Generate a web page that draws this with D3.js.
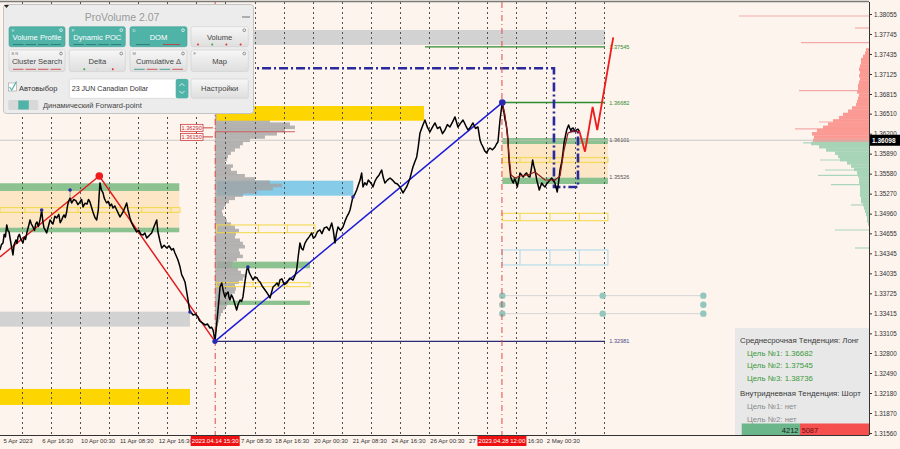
<!DOCTYPE html>
<html><head><meta charset="utf-8">
<script src="https://cdn.jsdelivr.net/npm/d3@7/dist/d3.min.js"></script>
<style>html,body{margin:0;padding:0;background:#fdf4ee;overflow:hidden}svg{display:block}</style>
</head><body><svg id="chart" width="900" height="449"></svg>
<script>
// ================= DATA =================
const priceTicks = [1.38055,1.37745,1.37435,1.37125,1.36815,1.36510,1.36200,1.35890,1.35580,1.35270,1.34960,1.34655,1.34345,1.34035,1.33725,1.33415,1.33105,1.32800,1.32490,1.32180,1.31870,1.31560];
const timeLabels = ["5 Apr 2023","6 Apr 16:30","10 Apr 00:30","11 Apr 08:30","12 Apr 16:30","14 Apr 00:30","17 Apr 08:30","18 Apr 16:30","20 Apr 00:30","21 Apr 08:30","24 Apr 16:30","26 Apr 00:30","27 Apr 08:30","28 Apr 16:30","2 May 00:30"];
// trading hours since 5 Apr 08:30 (weekends removed)
const timeLabelHours = [0,32,64,96,128,160,192,224,256,288,320,352,384,416,448];
const dayStartHours = [15.5,39.5,63.5,87.5,111.5,135.5,159.5,183.5,207.5,231.5,255.5,279.5,303.5,327.5,351.5,375.5,399.5,423.5,447.5,471.5,495.5];
const markedTimes = [{h:175, label:"2023.04.14 15:30"},{h:411.5, label:"2023.04.28 12:00"}];

const currentPrice = 1.36098;

// price path [hour, price]
const priceSeries = [
[-2.5,1.34397],[-1.3,1.34480],[0,1.34506],[1,1.34640],[2,1.34600],[3.1,1.34785],[4,1.34700],[5,1.34676],[6,1.34560],[7,1.34450],[8.2,1.34320],[9.2,1.34480],[10.7,1.34552],[11.5,1.34500],[12.4,1.34599],[13.5,1.34640],[14.8,1.34560],[16.5,1.34506],[17.5,1.34600],[18.6,1.34560],[19.8,1.34676],[21,1.34760],[22.3,1.34862],[23.4,1.34800],[24.7,1.34754],[26,1.34700],[27,1.34800],[28,1.34831],[29.2,1.34760],[30.5,1.34862],[31.2,1.34930],[31.9,1.35017],[32.8,1.34850],[33.8,1.34738],[35,1.34700],[36,1.34661],[37.4,1.34760],[38.8,1.34862],[40,1.34830],[41.2,1.34800],[42.8,1.34920],[44.3,1.34893],[46,1.34950],[47.2,1.34820],[48.4,1.34862],[49.4,1.34910],[50.3,1.34940],[51.4,1.34900],[52.5,1.34986],[53.2,1.35080],[53.9,1.35141],[55.3,1.35200],[56.7,1.35126],[58.4,1.35180],[60.2,1.35157],[61.8,1.35100],[63.5,1.35141],[64.8,1.35180],[66,1.35064],[67.6,1.35120],[69.3,1.35110],[70.5,1.35180],[71.7,1.35141],[73,1.35060],[74.2,1.34986],[75.8,1.34900],[77.3,1.34862],[78.6,1.35017],[79.3,1.35250],
[80,1.35436],[80.6,1.35380],[81.2,1.35327],[82.5,1.35281],[83.5,1.35200],[84.5,1.35160],[85.5,1.35126],[86.8,1.35150],[88.2,1.35079],[89.5,1.35110],[90.7,1.35048],[92.2,1.35080],[93.8,1.35017],[95.2,1.34960],[96.5,1.34909],[97.8,1.34950],[99,1.34986],[100.6,1.35060],[102,1.35126],[103.1,1.35017],[104.6,1.34900],[106.1,1.34816],[108.2,1.34740],[110.3,1.34676],[112,1.34700],[113.8,1.34640],[115.5,1.34630],[117,1.34660],[118.5,1.34583],[120.5,1.34620],[122.6,1.34661],[124.6,1.34760],[126.8,1.34862],[127.3,1.34760],[127.8,1.34676],[129.4,1.34540],[130.9,1.34428],[132.9,1.34470],[135,1.34428],[137,1.34460],[139.1,1.34397],[140.5,1.34420],[141.8,1.34351],[143,1.34300],[144.3,1.34242],[145.8,1.34150],[147.4,1.34010],[148.8,1.33960],[150.1,1.33901],[151.4,1.33760],[152.6,1.33622],[153.4,1.33520],[154.2,1.33436],[155.5,1.33420],[156.7,1.33390],[158.8,1.33400],[160.8,1.33359],[162,1.33300],[163.3,1.33281],[165,1.33260],[166.6,1.33235],[168.6,1.33250],[170.7,1.33188],[172,1.33200],[173.2,1.33157],[174,1.33080],
[174.8,1.32981],[176,1.33200],[177.3,1.33467],[178.2,1.33650],[179,1.33824],[180.4,1.33886],[181.8,1.33750],[183.1,1.33669],[184.4,1.33720],[185.6,1.33746],[186.4,1.33660],[187.2,1.33622],[188.4,1.33700],[189.7,1.33653],[191.2,1.33560],[192.7,1.33467],[194,1.33560],[195.5,1.33622],[196.7,1.33600],[197.9,1.33669],[199.5,1.33900],[201,1.34087],[202,1.34134],[203,1.34050],[204.6,1.33990],[206.2,1.33932],[207.8,1.33980],[209.5,1.33963],[210.8,1.33920],[212,1.33901],[214,1.33830],[216.1,1.33777],[218.2,1.33720],[220.2,1.33653],[221.5,1.33740],[222.7,1.33824],[224.3,1.33850],[226,1.33886],[227.2,1.33840],[228.4,1.33932],[230,1.33950],[232,1.33860],[234,1.33886],[236.5,1.33960],[239.2,1.33932],[240.8,1.34000],[242.2,1.34087],[243.5,1.34300],
[244.9,1.34506],[246.2,1.34420],[247.4,1.34397],[249,1.34500],[250.5,1.34552],[252.5,1.34600],[254.6,1.34661],[256,1.34580],[257.3,1.34599],[259.3,1.34680],[261.4,1.34707],[263,1.34650],[265,1.34740],[267,1.34754],[269,1.34700],[271.1,1.34816],[272.4,1.34700],[273.8,1.34506],[275,1.34650],[276.3,1.34754],[278.3,1.34700],[280.4,1.34754],[282,1.34840],[283.5,1.34909],[285,1.34960],[286.2,1.35017],[287.4,1.35120],[288.6,1.35219],[290.2,1.35260],[291.7,1.35327],[293,1.35400],[294.5,1.35480],[295.8,1.35591],[296.9,1.35374],[298.4,1.35440],[299.9,1.35405],[301.3,1.35480],[302.7,1.35451],[304,1.35420],[305.1,1.35374],[306.7,1.35460],[308.2,1.35513],[310.2,1.35560],[312.3,1.35637],[313.6,1.35520],[315,1.35436],[317,1.35480],[319.2,1.35513],[321.2,1.35480],[323.3,1.35436],[325.3,1.35420],[327.4,1.35374],[328.6,1.35330],[329.9,1.35281],[331.4,1.35330],[332.9,1.35374],[334.3,1.35440],[335.7,1.35513],[336.9,1.35600],[338.1,1.35684],[339.6,1.35760],[341.2,1.35839],[342.5,1.36000],[343.9,1.36211],[346,1.36320],
[348,1.36412],[350,1.36300],[352.1,1.36226],[354.2,1.36300],[356.3,1.36366],[358.3,1.36280],[360.4,1.36304],[362.5,1.36200],[364.5,1.36257],[366.5,1.36340],[368.6,1.36304],[370.7,1.36380],[372.8,1.36459],[374,1.36380],[375.2,1.36304],[377.3,1.36360],[379.4,1.36412],[381.5,1.36330],[383.5,1.36257],[385.5,1.36300],[387.6,1.36366],[389.7,1.36280],[391.7,1.36304],[392.6,1.36200],[393.4,1.36102],[394.6,1.36040],[395.9,1.35994],[397.4,1.35930],[398.9,1.35901],[400.2,1.35950],[401.6,1.35978],[403.7,1.35950],[405.8,1.35994],[407,1.36040],[408.2,1.36071],[409.1,1.36250],[409.9,1.36412],[410.9,1.36560],
[411.8,1.36682],[412.5,1.36600],[413.2,1.36521],[414,1.36420],[414.8,1.36366],[415.7,1.36250],[416.5,1.36102],[417,1.35900],[417.5,1.35746],[418.1,1.35640],[418.7,1.35529],[419.7,1.35480],[420.8,1.35436],[422,1.35500],[423.1,1.35451],[424.2,1.35374],[425.3,1.35480],[426.4,1.35591],[427.8,1.35560],[429.1,1.35529],[430.5,1.35570],[431.9,1.35591],[433.2,1.35540],[434.6,1.35529],[435.7,1.35650],[436.8,1.35792],[437.8,1.35700],[438.7,1.35637],[439.5,1.35560],[440.2,1.35482],[441.3,1.35400],[442.3,1.35327],[443.3,1.35380],[444.3,1.35436],[445.6,1.35400],[447,1.35374],[448.3,1.35420],[449.7,1.35451],[451.1,1.35480],[452.5,1.35513],[453.9,1.35470],[455.2,1.35436],[456.2,1.35360],[457.1,1.35296],[458.3,1.35460],[459.4,1.35637],[460.8,1.35761],[461.8,1.35900],[462.7,1.36056],[463.8,1.36160],[464.9,1.36257],[465.7,1.36300],[466.5,1.36335],[467.3,1.36290],[468.2,1.36257],[469.3,1.36280],[470.3,1.36288],[471.7,1.36240],[473.1,1.36257],[474.2,1.36270],[475.3,1.36242]];

const maSeries = [[411.8,1.36682],[414,1.36490],[415.6,1.36257],[417.3,1.35870],[419,1.35560],[422.3,1.35513],[426.4,1.35544],[433,1.35560],[438.7,1.35606],[447,1.35482],[455.2,1.35482],[459.4,1.35544],[462.7,1.35947],[466,1.36211],[471,1.36242],[475.8,1.36226]];
const redTrend = [[-2.5,1.34289],[79.4,1.35544],[174.8,1.32981]];
const blueTrend = [[174.8,1.32981],[411.8,1.36682]];
const forecast = [[475.3,1.36242],[480,1.35921],[486.3,1.36614],[490.1,1.36257],[503.3,1.37694]];
const navyBox = [[185.6,1.37213],[454.4,1.37213],[454.4,1.35374],[474.2,1.35374],[474.2,1.36242],[467.6,1.36242]];
const pivots = [[31.9,1.35017],[55.3,1.35327],[154.2,1.33436],[202,1.34134],[288.6,1.35219]];
const pivotWick = [55.3,1.35327,1.35126];

// zones [h0, h1, priceTop, priceBottom, kind]
const zones = [
  [187.2,496.5,1.37807,1.37575,"grey"],
  [-2.5,154.2,1.32243,1.31995,"gold"],
  [-2.5,154.2,1.33441,1.33208,"grey"],
  [-2.5,145.4,1.35312,1.34743,"beige"],
  [-2.5,145.4,1.35431,1.35312,"green"],
  [-2.5,145.4,1.34743,1.34671,"green"],
  [176.2,288.9,1.35471,1.35239,"sky"],
  [176.2,253.2,1.34216,1.34113,"green"],
  [176.2,253.2,1.33611,1.33545,"green"],
  [411.8,498.9,1.36040,1.35518,"beige"],
  [411.8,498.9,1.36133,1.36040,"green"],
  [411.8,498.9,1.35518,1.35420,"green"]
];
const topZones = [[176.2,347.2,1.36629,1.36401,"gold"]];
// outlined boxes [h0, h1, priceTop, priceBottom, kind, dividers]
const boxes = [
  [-2.5,146,1.35053,1.34981,"yellow",[18.1,61.9,114.4,138.5]],
  [176.2,257.3,1.34785,1.34665,"yellow",[210.6,234.5]],
  [176.2,253.2,1.33890,1.33828,"yellow",[206.2,234.2]],
  [411.8,498.9,1.35828,1.35756,"yellow",[426.4,451.1,475.3]],
  [411.8,498.9,1.34966,1.34851,"yellow",[426.4,451.1,475.3]],
  [411.8,498.9,1.34397,1.34165,"blue",[426.4,451.1,475.3]]
];
// level lines [h0, h1, price, kind, label]
const levels = [
  [348,496.5,1.37545,"green","1.37545"],
  [411.8,496.5,1.36682,"green","1.36682"],
  [174.8,496.5,1.32981,"navy","1.32981"]
];
const levelTags = [[1.36101,"1.36101"],[1.35526,"1.35526"]];
const tealDots = [[411.8,1.33689],[411.8,1.33549],[411.8,1.33410],[494.6,1.33689],[494.6,1.33410],[577.6,1.33689],[577.6,1.33549],[577.6,1.33410]];
const tealLines = [[411.8,577.6,1.33689],[411.8,577.6,1.33410]];

// left volume profile (anchored at 14 Apr 15:30)
const leftProfileStart = 174.8;
const leftProfileTop = 1.3665, profileStep = 0.0005;
const leftProfileVol = [35,38,40,40,45,55,75,80,70,62,50,35,28,25,20,16,13,12,10,18,16,22,30,40,55,67,58,42,28,20,14,11,9,7,8,10,12,16,20,24,21,20,25,28,30,24,25,28,22,18,17,23,26,30,28,24,20,21,20,17,15,14,12,10,8,6,5,4,3,2,2];
const leftPoc = [1.3623, 80];
const pocTags = [1.36290, 1.36150];
// right volume profile (session)
const rightProfileTop = 1.3750;
const rightProfileVol = [3,4,6,8,8,9,10,9,10,9,10,11,11,12,10,11,12,13,17,21,26,30,36,41,46,52,57,55,56,58,50,43,34,31,29,22,18,15,12,11,10,10,9,9,9,9,8,8,6,5,4,3,2,2,1];
const rightSpikes = [[1.38024,130],[1.37838,14],[1.37610,68],[1.36866,70],[1.36381,50],[1.36273,74],[1.36056,66],[1.35792,49],[1.35637,44],[1.35552,51],[1.35409,38],[1.35095,18],[1.34707,34],[1.34428,14]];

// info panel
const trendMid = "Среднесрочная Тенденция: Лонг";
const trendMidTargets = ["Цель №1: 1.36682","Цель №2: 1.37545","Цель №3: 1.38736"];
const trendIntra = "Внутридневная Тенденция: Шорт";
const trendIntraTargets = ["Цель №1: нет","Цель №2: нет"];
const buyVol = 4212, sellVol = 5087;

// ================= DRAW =================
const FONT = "'Liberation Sans', Arial, sans-serif";
const svg = d3.select("#chart").attr("font-family", FONT);
const PR = 869, PT = 2, PB = 435;
const x = d3.scaleLinear().domain([0,448]).range([3,546.2]);
const y = d3.scaleLinear().domain([1.31560,1.38055]).range([433,14]);
const vol = d3.scaleLinear().domain([0,100]).range([0,100]);

svg.append("rect").attr("width",900).attr("height",449).attr("fill","#fdf4ee");
const defs = svg.append("defs");
defs.append("clipPath").attr("id","plot").append("rect").attr("x",0).attr("y",PT).attr("width",PR).attr("height",PB-PT);
const plot = svg.append("g").attr("clip-path","url(#plot)");

const zoneFill = {grey:"#d2d2d2", gold:"#fdd500", beige:"#fde6c6", green:"#8cc28f", sky:"#86cbe8"};
function drawZones(arr){
  plot.append("g").selectAll("rect").data(arr).join("rect")
    .attr("x",d=>x(d[0])).attr("width",d=>x(d[1])-x(d[0]))
    .attr("y",d=>y(d[2])).attr("height",d=>y(d[3])-y(d[2]))
    .attr("fill",d=>zoneFill[d[4]]);
}
drawZones(zones);

// left grey profile
const lp = plot.append("g");
lp.selectAll("rect").data(leftProfileVol).join("rect")
  .attr("x",x(leftProfileStart))
  .attr("y",(d,i)=>y(leftProfileTop - i*profileStep + profileStep/2))
  .attr("height",(d,i)=>y(leftProfileTop - i*profileStep - profileStep/2) - y(leftProfileTop - i*profileStep + profileStep/2)+0.3)
  .attr("width",d=>vol(d))
  .attr("fill","#a2a2a2").attr("opacity",0.8);
lp.append("line").attr("x1",x(leftProfileStart)).attr("x2",x(leftProfileStart)+vol(leftPoc[1]))
  .attr("y1",y(leftPoc[0])).attr("y2",y(leftPoc[0])).attr("stroke","#d06060").attr("stroke-width",1);
drawZones(topZones);

// right profile
const rp = plot.append("g");
rp.selectAll("line.spk").data(rightSpikes).join("line").attr("class","spk")
  .attr("x1",PR).attr("x2",d=>PR-vol(d[1])).attr("y1",d=>y(d[0])).attr("y2",d=>y(d[0]))
  .attr("stroke",d=>d[0]>currentPrice?"#f5aaaa":"#acd6bc").attr("stroke-width",1.2);
rp.selectAll("rect").data(rightProfileVol).join("rect")
  .attr("x",d=>PR-vol(d)).attr("width",d=>vol(d))
  .attr("y",(d,i)=>y(rightProfileTop - i*profileStep + profileStep/2))
  .attr("height",(d,i)=>y(rightProfileTop - i*profileStep - profileStep/2) - y(rightProfileTop - i*profileStep + profileStep/2)+0.3)
  .attr("fill",(d,i)=>(rightProfileTop - i*profileStep) > currentPrice ? "#fb9993" : "#a7d4b6");

// outlined boxes
const boxStroke = {yellow:"#f4d843", blue:"#a9d9ea"};
boxes.forEach(b=>{
  const gb = plot.append("g").attr("fill","none").attr("stroke",boxStroke[b[4]]).attr("stroke-width",1);
  gb.append("rect").attr("x",x(b[0])).attr("y",y(b[2])).attr("width",x(b[1])-x(b[0])).attr("height",y(b[3])-y(b[2]));
  gb.selectAll("line").data(b[5]).join("line").attr("x1",d=>x(d)).attr("x2",d=>x(d)).attr("y1",y(b[2])).attr("y2",y(b[3]));
});

// day grid
plot.append("g").selectAll("line").data(dayStartHours).join("line")
  .attr("x1",d=>Math.round(x(d))+0.5).attr("x2",d=>Math.round(x(d))+0.5).attr("y1",PT).attr("y2",PB)
  .attr("stroke","#505050").attr("stroke-width",1).attr("stroke-dasharray","2,3");

// current price line
plot.append("line").attr("x1",0).attr("x2",PR).attr("y1",y(currentPrice)).attr("y2",y(currentPrice))
  .attr("stroke","#bdbdbd").attr("stroke-width",0.8);

// teal lines + dots
plot.append("g").selectAll("line").data(tealLines).join("line")
  .attr("x1",d=>x(d[0])).attr("x2",d=>x(d[1])).attr("y1",d=>y(d[2])).attr("y2",d=>y(d[2]))
  .attr("stroke","#d6d6d6").attr("stroke-width",1);
plot.append("g").selectAll("circle").data(tealDots).join("circle")
  .attr("cx",d=>x(d[0])).attr("cy",d=>y(d[1])).attr("r",3.2).attr("fill","#93c6bc");

// level lines
const lineColor = {green:"#2e8b2e", navy:"#2b2b7a"};
plot.append("g").selectAll("line").data(levels).join("line")
  .attr("x1",d=>x(d[0])).attr("x2",d=>x(d[1])).attr("y1",d=>y(d[2])).attr("y2",d=>y(d[2]))
  .attr("stroke",d=>lineColor[d[3]]).attr("stroke-width",1.4);
plot.append("g").selectAll("text").data(levels).join("text")
  .attr("x",x(500)).attr("y",d=>y(d[2])+2).text(d=>d[4])
  .attr("font-size",5.6).attr("fill",d=>d[3]==="green"?"#2e8b2e":"#4a4a8a");
plot.append("g").selectAll("text").data(levelTags).join("text")
  .attr("x",x(500)).attr("y",d=>y(d[0])+2).text(d=>d[1])
  .attr("font-size",5.6).attr("fill","#555");

const line = d3.line().x(d=>x(d[0])).y(d=>y(d[1]));

// navy dash-dot box
plot.append("path").attr("d",line(navyBox)).attr("fill","none").attr("stroke","#2a2a9c")
  .attr("stroke-width",2.6).attr("stroke-dasharray","9,3,2,3");

// red marked verticals
plot.append("g").selectAll("line").data(markedTimes).join("line")
  .attr("x1",d=>x(d.h)).attr("x2",d=>x(d.h)).attr("y1",PT).attr("y2",PB)
  .attr("stroke","#e04848").attr("stroke-width",1).attr("stroke-dasharray","6,3,1,3");

// trend lines
plot.append("path").attr("d",line(redTrend)).attr("fill","none").attr("stroke","#e21d1d").attr("stroke-width",1.5);
plot.append("path").attr("d",line(blueTrend)).attr("fill","none").attr("stroke","#1c1cd8").attr("stroke-width",1.5);

// price
plot.append("line").attr("x1",x(pivotWick[0])).attr("x2",x(pivotWick[0])).attr("y1",y(pivotWick[1])).attr("y2",y(pivotWick[2])).attr("stroke","#999");
plot.append("path").attr("d",line(priceSeries)).attr("fill","none").attr("stroke","#000")
  .attr("stroke-width",1.5).attr("stroke-linejoin","round");
plot.append("path").attr("d",line(maSeries)).attr("fill","none").attr("stroke","#8b1a1a").attr("stroke-width",1.2);
plot.append("path").attr("d",line(forecast)).attr("fill","none").attr("stroke","#ee1c1c").attr("stroke-width",1.8);

// markers
plot.append("g").selectAll("circle").data(pivots).join("circle")
  .attr("cx",d=>x(d[0])).attr("cy",d=>y(d[1])).attr("r",1.8).attr("fill","#2a2a9c");
plot.append("circle").attr("cx",x(redTrend[1][0])).attr("cy",y(redTrend[1][1])).attr("r",3.8).attr("fill","#ee1c1c");
plot.append("circle").attr("cx",x(blueTrend[0][0])).attr("cy",y(blueTrend[0][1])).attr("r",2.6).attr("fill","#2a2ab0");
plot.append("circle").attr("cx",x(blueTrend[1][0])).attr("cy",y(blueTrend[1][1])).attr("r",3.3).attr("fill","#2a2ab0");

// POC tags
const tags = svg.append("g");
pocTags.forEach(p=>{
  const yy = y(p);
  tags.append("line").attr("x1",203).attr("x2",x(leftProfileStart)-2).attr("y1",yy).attr("y2",yy).attr("stroke","#d04040");
  tags.append("rect").attr("x",180.5).attr("y",yy-3.5).attr("width",22.5).attr("height",7).attr("fill","#fff4f2").attr("stroke","#d04040").attr("stroke-width",0.8);
  tags.append("text").attr("x",191.7).attr("y",yy+2.1).attr("text-anchor","middle").attr("font-size",5.6).attr("fill","#c03030").text(d3.format(".5f")(p));
});

// top border
svg.append("line").attr("x1",0).attr("x2",PR).attr("y1",1.5).attr("y2",1.5).attr("stroke","#7a7a7a").attr("stroke-width",1.5);

// axes
const yAxis = d3.axisRight(y).tickValues(priceTicks).tickFormat(d3.format(".5f")).tickSize(3).tickPadding(2);
const ya = svg.append("g").attr("transform",`translate(${PR},0)`).call(yAxis);
ya.select(".domain").remove();
ya.selectAll("line").attr("stroke","#333");
ya.selectAll("text").attr("font-size",6.3).attr("fill","#333").attr("font-family",FONT);
svg.append("line").attr("x1",PR+0.5).attr("x2",PR+0.5).attr("y1",PT).attr("y2",PB).attr("stroke","#333");

const xAxis = d3.axisBottom(x).tickValues(timeLabelHours).tickFormat((d,i)=>timeLabels[i]).tickSize(0).tickPadding(4);
const xa = svg.append("g").attr("transform",`translate(0,${PB})`).call(xAxis);
xa.select(".domain").remove();
xa.selectAll("text").attr("text-anchor","start").attr("font-size",6).attr("fill","#333").attr("font-family",FONT);
svg.append("line").attr("x1",0).attr("x2",PR).attr("y1",PB+0.5).attr("y2",PB+0.5).attr("stroke","#333");

// marked time boxes (they cover the regular labels underneath: keep only the visible part of those)
const boxW = 49;
const spans = markedTimes.map(d=>[x(d.h)-boxW/2, x(d.h)+boxW/2]);
xa.selectAll(".tick").each(function(d){
  const t = d3.select(this).select("text");
  const node = t.node();
  const full = node.textContent;
  const tx = x(d);
  const n = full.length;
  const starts = [], ends = [];
  for(let i=0;i<n;i++){ const e=node.getExtentOfChar(i); starts.push(tx+e.x); ends.push(tx+e.x+e.width); }
  let keepFrom = 0, keepTo = n;
  spans.forEach(s=>{
    const startsInside = starts[0] >= s[0]-0.5 && starts[0] < s[1];
    for(let i=0;i<n;i++){
      const c = (starts[i]+ends[i])/2;
      if(c > s[0] && c < s[1]){
        if(startsInside) keepFrom = Math.max(keepFrom,i+1); else keepTo = Math.min(keepTo,i);
      }
    }
  });
  if(keepFrom>0 || keepTo<n){
    let a = keepFrom, b = keepTo;
    while(a<b && full[a]===" ") a++;
    while(b>a && full[b-1]===" ") b--;
    if(b<=a){ t.remove(); return; }
    let sx = starts[a]-tx;
    // nudge so the visible part does not touch the box
    spans.forEach(s=>{ if(tx+sx < s[1]+0.8 && tx+sx > s[0]) sx = s[1]+0.8-tx; });
    t.text(full.slice(a,b)).attr("x",sx);
  }
});
const mt = svg.append("g").selectAll("g").data(markedTimes).join("g");
mt.append("rect").attr("x",d=>x(d.h)-boxW/2).attr("y",PB+1).attr("width",boxW).attr("height",10).attr("fill","#ee1111");
mt.append("text").attr("x",d=>x(d.h)).attr("y",PB+8.3).attr("text-anchor","middle").attr("font-size",6).attr("fill","#fff").text(d=>d.label);

// current price tag
svg.append("rect").attr("x",PR+1).attr("y",y(currentPrice)-5.5).attr("width",30).attr("height",11).attr("fill","#000");
svg.append("text").attr("x",PR+3).attr("y",y(currentPrice)+2.3).attr("font-size",6.5).attr("font-weight","bold").attr("fill","#fff").text(d3.format(".5f")(currentPrice));

// info box
const ib = svg.append("g");
ib.append("rect").attr("x",735).attr("y",328).attr("width",PR-735).attr("height",PB-328).attr("fill","#e7e7e7").attr("opacity",0.95);
ib.append("text").attr("x",740).attr("y",343).attr("font-size",7.8).attr("fill","#3a3a3a").text(trendMid);
ib.selectAll("text.t1").data(trendMidTargets).join("text").attr("class","t1")
  .attr("x",747).attr("y",(d,i)=>355.5+i*12.8).attr("font-size",7.8).attr("fill","#3a9a3a").text(d=>d);
ib.append("text").attr("x",740).attr("y",396).attr("font-size",7.8).attr("fill","#3a3a3a").text(trendIntra);
ib.selectAll("text.t2").data(trendIntraTargets).join("text").attr("class","t2")
  .attr("x",747).attr("y",(d,i)=>409+i*12.8).attr("font-size",7.8).attr("fill","#8a8a8a").text(d=>d);
ib.append("rect").attr("x",741.7).attr("y",423.5).attr("width",800-741.7).attr("height",PB-423.5).attr("fill","#6cb68c");
ib.append("rect").attr("x",800).attr("y",423.5).attr("width",PR-800).attr("height",PB-423.5).attr("fill","#f54f4f");
ib.append("text").attr("x",798.5).attr("y",432.5).attr("text-anchor","end").attr("font-size",7.5).attr("fill","#1a1a1a").text(buyVol);
ib.append("text").attr("x",801.5).attr("y",432.5).attr("font-size",7.5).attr("fill","#6a0d0d").text(sellVol);

// ============ ProVolume panel ============
const pv = svg.append("g");
pv.append("rect").attr("x",3.5).attr("y",4.5).attr("width",250).attr("height",109).attr("rx",3).attr("fill","#ececec").attr("stroke","#c4c4c4");
pv.append("path").attr("d","M4,5 L9,5 L6.5,8 Z").attr("fill","#222");
pv.append("text").attr("x",122).attr("y",21).attr("text-anchor","middle").attr("font-size",10.5).attr("fill","#9a9a9a").text("ProVolume 2.07");
pv.append("line").attr("x1",242).attr("x2",250).attr("y1",17).attr("y2",17).attr("stroke","#999").attr("stroke-width",1.5);
const buttons = [
  {x:9,y:26.7,w:56,h:20,t:"Volume Profile",k:"V",on:true,ind:"dash",c:["#2b7c74","#2b7c74","#2b7c74","#2b7c74"]},
  {x:69.3,y:26.7,w:56,h:20,t:"Dynamic POC",k:"P",on:true,ind:"dash",c:["#2b7c74","#2b7c74","#2b7c74","#2b7c74"]},
  {x:130,y:26.7,w:57,h:20,t:"DOM",k:"D",on:true,ind:"dash2",c:["#2b7c74","#c43c3c"]},
  {x:191,y:26.7,w:57.3,h:20,t:"Volume",k:"",on:false,ind:"dots",c:["#d33","#3a3","#d33","#d33"]},
  {x:9,y:50,w:56,h:21.5,t:"Cluster Search",k:"B N",on:false,ind:"dash",c:["#d04848","#d04848","#d04848","#d04848"]},
  {x:69.3,y:50,w:56,h:21.5,t:"Delta",k:"",on:false,ind:"dots2",c:["#3a3","#d33"]},
  {x:130,y:50,w:57,h:21.5,t:"Cumulative Δ",k:"M",on:false,ind:"dash",c:["#3a9a8a","#d04848","#3a9a8a","#d04848"]},
  {x:191,y:50,w:57.3,h:21.5,t:"Map",k:"F",on:false,ind:"none",c:[]}
];
const grad = defs.append("linearGradient").attr("id","btn").attr("x1",0).attr("x2",0).attr("y1",0).attr("y2",1);
grad.append("stop").attr("offset",0).attr("stop-color","#f7f7f7");
grad.append("stop").attr("offset",1).attr("stop-color","#dedede");
buttons.forEach(b=>{
  const g = pv.append("g");
  g.append("rect").attr("x",b.x).attr("y",b.y).attr("width",b.w).attr("height",b.h).attr("rx",2)
    .attr("fill",b.on?"#4fb3a8":"url(#btn)").attr("stroke",b.on?"#45a096":"#cfcfcf").attr("stroke-width",0.6);
  g.append("text").attr("x",b.x+b.w/2).attr("y",b.y+b.h/2+3.2).attr("text-anchor","middle").attr("font-size",7.6)
    .attr("fill",b.on?"#fff":"#444").text(b.t);
  if(b.k) g.append("text").attr("x",b.x+2.5).attr("y",b.y+5).attr("font-size",4).attr("fill",b.on?"#e8f6f4":"#777").text(b.k);
  g.append("circle").attr("cx",b.x+b.w-4).attr("cy",b.y+3.5).attr("r",1.4).attr("fill","none").attr("stroke",b.on?"#e8f6f4":"#777").attr("stroke-width",0.8);
  const by = b.y+b.h-2.2;
  if(b.ind==="dash"){ b.c.forEach((c,i)=>{ const seg=(b.w-6)/4; g.append("line").attr("x1",b.x+3+i*seg+1).attr("x2",b.x+3+(i+1)*seg-1).attr("y1",by).attr("y2",by).attr("stroke",c).attr("stroke-width",0.9);}); }
  if(b.ind==="dash2"){ g.append("line").attr("x1",b.x+6).attr("x2",b.x+20).attr("y1",by).attr("y2",by).attr("stroke",b.c[0]).attr("stroke-width",0.9);
    g.append("line").attr("x1",b.x+33).attr("x2",b.x+50).attr("y1",by).attr("y2",by).attr("stroke",b.c[1]).attr("stroke-width",0.9); }
  if(b.ind==="dots"){ b.c.forEach((c,i)=>{ g.append("circle").attr("cx",b.x+7+i*14.2).attr("cy",by).attr("r",1).attr("fill",c);}); }
  if(b.ind==="dots2"){ g.append("circle").attr("cx",b.x+15).attr("cy",by).attr("r",1).attr("fill",b.c[0]);
    g.append("circle").attr("cx",b.x+43.5).attr("cy",by).attr("r",1).attr("fill",b.c[1]);
    g.append("line").attr("x1",b.x+b.w/2).attr("x2",b.x+b.w/2).attr("y1",by-1.5).attr("y2",by+1.5).attr("stroke","#bbb").attr("stroke-width",0.5);}
});
// checkbox
pv.append("rect").attr("x",8.5).attr("y",83).attr("width",8).attr("height",8).attr("fill","#fff").attr("stroke","#999").attr("stroke-width",0.6);
pv.append("path").attr("d","M9.5,87 L11.8,90 L16.5,81.5").attr("fill","none").attr("stroke","#4fb3a8").attr("stroke-width",1.2);
pv.append("text").attr("x",19).attr("y",90.5).attr("font-size",7.5).attr("fill","#333").text("Автовыбор");
// dropdown
pv.append("rect").attr("x",69.3).attr("y",79).attr("width",119).attr("height",19.3).attr("rx",2).attr("fill","#fff").attr("stroke","#cfcfcf").attr("stroke-width",0.6);
pv.append("rect").attr("x",175.7).attr("y",79).attr("width",12.6).attr("height",19.3).attr("rx",2).attr("fill","#4fb3a8");
pv.append("path").attr("d","M179.5,86 L182,83.5 L184.5,86 M179.5,91 L182,93.5 L184.5,91").attr("fill","none").attr("stroke","#fff").attr("stroke-width",0.8);
pv.append("text").attr("x",71.7).attr("y",91.3).attr("font-size",7.1).attr("fill","#333").text("23 JUN Canadian Dollar");
pv.append("rect").attr("x",191).attr("y",79).attr("width",57.3).attr("height",19.3).attr("rx",2).attr("fill","url(#btn)").attr("stroke","#cfcfcf").attr("stroke-width",0.6);
pv.append("text").attr("x",219.6).attr("y",91.3).attr("text-anchor","middle").attr("font-size",7.6).attr("fill","#444").text("Настройки");
// toggle
pv.append("rect").attr("x",8.3).attr("y",100).attr("width",30).attr("height",10).attr("rx",1.5).attr("fill","#d8d8d8");
pv.append("rect").attr("x",18.3).attr("y",100.5).attr("width",10.5).attr("height",9).attr("fill","#4fb3a8");
pv.append("text").attr("x",43).attr("y",108).attr("font-size",7.5).attr("fill","#444").text("Динамический Forward-point");
</script></body></html>
